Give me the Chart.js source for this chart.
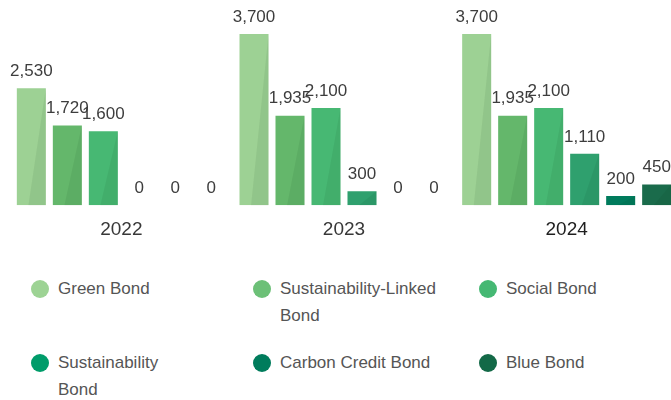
<!DOCTYPE html>
<html>
<head>
<meta charset="utf-8">
<script src="https://cdn.jsdelivr.net/npm/chart.js@4"></script>
<style>
  html, body { margin: 0; padding: 0; background: #fff; overflow: hidden; }
  body { width: 671px; height: 400px; position: relative; font-family: "Liberation Sans", Arial, sans-serif; }
  #chartBox { position: absolute; left: 0; top: 0; width: 678px; height: 246px; }
  #legend {
    position: absolute; left: 31px; top: 275px;
    display: grid; grid-template-columns: 222px 226px auto; row-gap: 20px;
  }
  .legend-item { display: flex; align-items: flex-start; color: #555; font-size: 17px; line-height: 27px; }
  .legend-dot { width: 18px; height: 18px; border-radius: 50%; margin-top: 5px; margin-right: 9px; flex: none; }
  .legend-item:nth-child(3n+1) .legend-text { max-width: 125px; }
  .legend-item:nth-child(3n+2) .legend-text { max-width: 180px; }
</style>
</head>
<body>
<div id="chartBox"><canvas id="bondChart"></canvas></div>
<div id="legend"></div>
<script>
const years = ['2022', '2023', '2024'];
const seriesNames = ['Green Bond', 'Sustainability-Linked Bond', 'Social Bond',
  'Sustainability Bond', 'Carbon Credit Bond', 'Blue Bond'];

const greenBond = [2530, 3700, 3700];
const sustainabilityLinkedBond = [1720, 1935, 1935];
const socialBond = [1600, 2100, 2100];
const sustainabilityBond = [0, 300, 1110];
const carbonCreditBond = [0, 0, 200];
const blueBond = [0, 0, 450];

const barColors = ['#9dd194', '#64b76b', '#47b873', '#2fa06e', '#007b5c', '#1a6b4b'];
const dotColors = ['#9dd394', '#6cc077', '#45b873', '#009c6a', '#007c5c', '#136947'];

const seriesValues = [greenBond, sustainabilityLinkedBond, socialBond,
  sustainabilityBond, carbonCreditBond, blueBond];

// darker diagonal shade on each bar, then the value above it
const barDecor = {
  id: 'barDecor',
  afterDatasetsDraw(chart) {
    const ctx = chart.ctx;
    ctx.save();
    chart.data.datasets.forEach((ds, i) => {
      chart.getDatasetMeta(i).data.forEach((bar, j) => {
        if (ds.data[j] <= 0) return;
        const left = bar.x - bar.width / 2;
        const right = bar.x + bar.width / 2;
        ctx.fillStyle = 'rgba(0, 40, 20, 0.07)';
        ctx.beginPath();
        ctx.moveTo(left + bar.width * 0.4, bar.base);
        ctx.lineTo(right, bar.base);
        ctx.lineTo(right, bar.y);
        ctx.closePath();
        ctx.fill();
      });
    });
    ctx.fillStyle = '#3d3d3d';
    ctx.font = '17px "Liberation Sans", Arial, sans-serif';
    ctx.textAlign = 'center';
    ctx.textBaseline = 'middle';
    chart.data.datasets.forEach((ds, i) => {
      chart.getDatasetMeta(i).data.forEach((bar, j) => {
        ctx.fillText(ds.data[j].toLocaleString('en-US'), bar.x, bar.y - 17);
      });
    });
    ctx.restore();
  }
};

new Chart(document.getElementById('bondChart'), {
  type: 'bar',
  data: {
    labels: years,
    datasets: seriesNames.map((name, i) => ({
      label: name,
      data: seriesValues[i],
      backgroundColor: barColors[i],
      borderWidth: 0,
      categoryPercentage: 0.97,
      barPercentage: 0.806
    }))
  },
  options: {
    responsive: true,
    maintainAspectRatio: false,
    animation: false,
    layout: { padding: { left: 10, right: 0, top: 0, bottom: 0 } },
    plugins: { legend: { display: false }, tooltip: { enabled: false } },
    scales: {
      x: {
        grid: { display: false },
        border: { display: false },
        ticks: {
          color: (c) => c.index === 2 ? '#1e1e1e' : '#383838',
          padding: 5,
          font: { size: 19, family: '"Liberation Sans", Arial, sans-serif' }
        }
      },
      y: { display: false, min: 0, max: 4435 }
    }
  },
  plugins: [barDecor]
});

// legend below the chart, three per row
const legendEl = document.getElementById('legend');
seriesNames.forEach((name, i) => {
  const item = document.createElement('div');
  item.className = 'legend-item';
  item.innerHTML = '<span class="legend-dot" style="background:' + dotColors[i] + '"></span>' +
    '<span class="legend-text">' + name + '</span>';
  legendEl.appendChild(item);
});
</script>
</body>
</html>
